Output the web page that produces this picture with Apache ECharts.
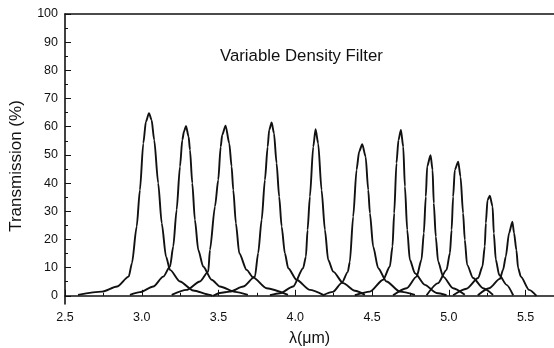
<!DOCTYPE html>
<html>
<head>
<meta charset="utf-8">
<script src="https://cdn.jsdelivr.net/npm/echarts@6/dist/echarts.min.js"></script>
<style>html,body{margin:0;padding:0;background:#fff}#c{width:554px;height:348px}</style>
</head>
<body>
<div id="c"></div>
<script>
var title = 'Variable Density Filter';
var xName = 'λ(μm)';
var yName = 'Transmission (%)';
var xMajor = [2.5, 3.0, 3.5, 4.0, 4.5, 5.0, 5.5];
var xMinor = [2.75, 3.25, 3.75, 4.25, 4.75, 5.25];
var yMajor = [0, 10, 20, 30, 40, 50, 60, 70, 80, 90, 100];
var yMinor = [5, 15, 25, 35, 45, 55, 65, 75, 85, 95];

var c1 = [[2.585,0.35],[2.741,1.5],[2.839,3.3],[2.915,6.8],[2.936,11.6],[2.967,24.6],[2.988,37.6],[3.010,54.1],[3.027,61.8],[3.047,64.8],[3.064,62.4],[3.081,55.3],[3.107,40],[3.130,25.8],[3.158,13.9],[3.184,9.2],[3.249,5.1],[3.335,1.9],[3.444,0.35],[3.46,0]];
var c2 = [[2.923,0.35],[2.988,1.3],[3.075,3.3],[3.140,6.8],[3.184,10.4],[3.205,17.5],[3.227,30.5],[3.249,45.9],[3.264,55.3],[3.275,58.3],[3.288,60.3],[3.305,56.5],[3.314,51.8],[3.329,40],[3.346,27],[3.368,16.3],[3.400,10.4],[3.455,5.7],[3.509,3.3],[3.607,1.4],[3.691,0.35]];
var c3 = [[3.195,0.35],[3.292,2.1],[3.379,5.1],[3.433,8.6],[3.444,16.3],[3.477,31.7],[3.498,41.1],[3.514,52.9],[3.524,57.1],[3.546,60.4],[3.570,54.1],[3.585,45.9],[3.596,37.6],[3.613,25.8],[3.635,15.1],[3.683,9.2],[3.726,6.5],[3.813,2.7],[3.952,0.35]];
var c4 = [[3.465,0],[3.509,1],[3.574,1.5],[3.661,3.3],[3.737,6.8],[3.758,15.1],[3.781,27],[3.802,41.1],[3.820,52.9],[3.830,58.9],[3.846,61.5],[3.861,57.7],[3.878,47.1],[3.895,35.2],[3.911,24.6],[3.932,15.1],[3.954,9.8],[4.008,5.7],[4.095,2.1],[4.182,0.35]];
var c5 = [[3.835,0.2],[3.900,0.9],[3.986,3.3],[4.051,9.8],[4.069,13.9],[4.080,23.4],[4.095,35.2],[4.117,52.9],[4.132,59.1],[4.149,54.1],[4.171,37.6],[4.193,23.4],[4.214,12.8],[4.247,8.6],[4.312,4.5],[4.388,1.8],[4.453,0.35]];
var c6 = [[4.180,0.2],[4.245,1.4],[4.303,4.6],[4.342,8.5],[4.355,12],[4.377,28.1],[4.399,44.7],[4.416,51.2],[4.436,53.8],[4.458,49.4],[4.475,37.6],[4.486,29.3],[4.507,17.5],[4.540,9.8],[4.594,5.1],[4.681,1.5],[4.779,0.35]];
var c7 = [[4.388,0.2],[4.486,1.5],[4.572,5.7],[4.616,10.4],[4.633,17.5],[4.644,29.3],[4.659,47.1],[4.672,55.3],[4.688,58.9],[4.703,52.9],[4.714,38.8],[4.729,23.4],[4.746,12.8],[4.779,8],[4.844,3.9],[4.920,1],[4.985,0.2]];
var c8 = [[4.637,0.2],[4.725,2.7],[4.790,6.8],[4.822,12.8],[4.837,22.2],[4.850,35.2],[4.859,45.9],[4.881,49.9],[4.894,44.7],[4.902,32.9],[4.915,21],[4.930,12.2],[4.963,6.8],[5.028,2.7],[5.104,0.35]];
var c9 = [[4.855,0.2],[4.930,4.5],[4.985,9.2],[5.007,15.1],[5.018,23.4],[5.028,35.2],[5.039,44.7],[5.061,47.6],[5.076,42.3],[5.093,29.3],[5.104,19.9],[5.119,11],[5.158,6.3],[5.223,2.7],[5.288,0.35]];
var c10 = [[5.028,0.2],[5.115,2.5],[5.191,6.3],[5.219,10.4],[5.234,17.5],[5.241,25.8],[5.252,34],[5.267,35.5],[5.285,31.7],[5.293,22.2],[5.306,12.8],[5.328,7.4],[5.376,3.9],[5.419,0.2]];
var c11 = [[5.189,0.2],[5.262,2.7],[5.332,6],[5.353,9.2],[5.371,13.9],[5.392,22.2],[5.414,26.3],[5.425,22.2],[5.440,16.3],[5.451,9.9],[5.469,6.8],[5.523,2.1],[5.571,0]];

var curves = [c1, c2, c3, c4, c5, c6, c7, c8, c9, c10, c11];

var ink = '#111';
var font = 'Liberation Sans, Arial, sans-serif';
var chart = echarts.init(document.getElementById('c'), null, {renderer: 'canvas'});
var xMin = 2.5, xMax = 5.685, yMin = -2.9, yMax = 100;

chart.setOption({
  animation: false,
  backgroundColor: '#fff',
  title: {
    text: title, left: 215, top: 43,
    textStyle: {fontFamily: font, fontSize: 16.8, fontWeight: 'normal', color: ink}
  },
  grid: {left: 65, right: 0, top: 14, bottom: 44, containLabel: false, outerBoundsMode: 'none'},
  xAxis: [
    {
      type: 'value', min: xMin, max: xMax, position: 'bottom',
      name: xName, nameLocation: 'middle', nameGap: 27,
      nameTextStyle: {fontFamily: font, fontSize: 16, color: ink},
      axisLine: {show: true, lineStyle: {color: ink, width: 1.6}},
      axisTick: {show: true, inside: true, length: 6, lineStyle: {color: ink, width: 1}, customValues: xMajor},
      axisLabel: {show: true, margin: 7, fontFamily: font, fontSize: 12.5, color: ink, customValues: xMajor,
        formatter: function (v) { return v.toFixed(1); }},
      splitLine: {show: false}
    },
    {
      type: 'value', min: xMin, max: xMax, position: 'bottom',
      axisLine: {show: false},
      axisTick: {show: true, inside: true, length: 3, lineStyle: {color: ink, width: 1}, customValues: xMinor},
      axisLabel: {show: false}, splitLine: {show: false}
    },
    {
      type: 'value', min: xMin, max: xMax, position: 'top',
      axisLine: {show: true, lineStyle: {color: ink, width: 1.5}},
      axisTick: {show: false}, axisLabel: {show: false}, splitLine: {show: false}
    }
  ],
  yAxis: [
    {
      type: 'value', min: yMin, max: yMax, position: 'left',
      name: yName, nameLocation: 'middle', nameGap: 40, nameRotate: 90,
      nameTextStyle: {fontFamily: font, fontSize: 17, color: ink, padding: [0, 14, 0, 0]},
      axisLine: {show: true, lineStyle: {color: ink, width: 1.6}},
      axisTick: {show: true, inside: true, length: 6, lineStyle: {color: ink, width: 1}, customValues: yMajor},
      axisLabel: {show: true, margin: 7, fontFamily: font, fontSize: 12.5, color: ink, customValues: yMajor},
      splitLine: {show: false}
    },
    {
      type: 'value', min: yMin, max: yMax, position: 'left',
      axisLine: {show: false},
      axisTick: {show: true, inside: true, length: 3, lineStyle: {color: ink, width: 1}, customValues: yMinor},
      axisLabel: {show: false}, splitLine: {show: false}
    }
  ],
  series: curves.map(function (d) {
    return {
      type: 'line', data: d, xAxisIndex: 0, yAxisIndex: 0,
      symbol: 'none', smooth: 0.25, smoothMonotone: 'x',
      lineStyle: {color: ink, width: 1.9}, clip: false
    };
  })
});
</script>
</body>
</html>
